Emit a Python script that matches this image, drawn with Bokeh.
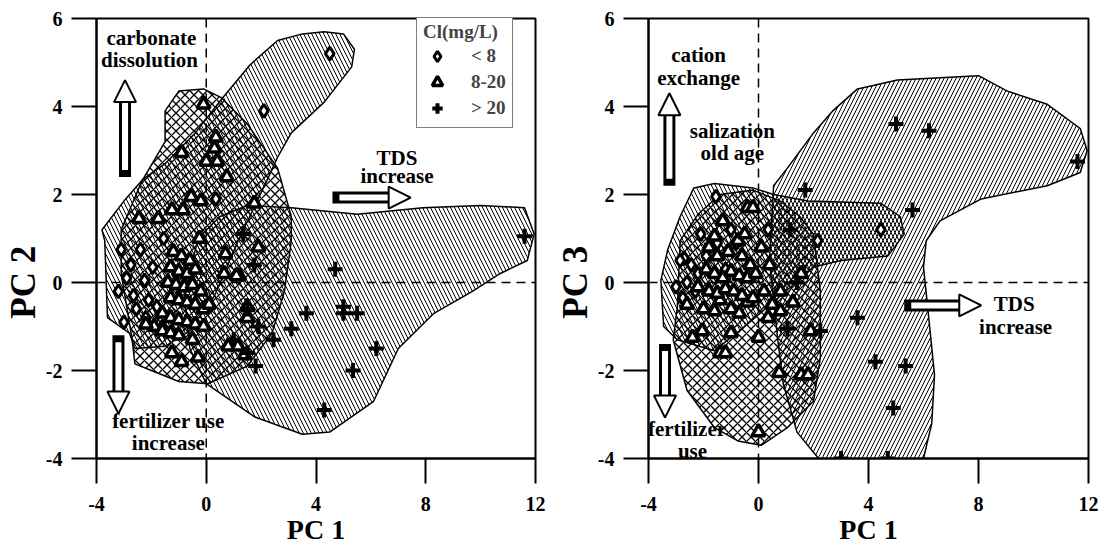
from bokeh.plotting import figure
from bokeh.layouts import row
from bokeh.models import (Range1d, FixedTicker, Span, Label, Arrow, NormalHead,
                          Legend, LegendItem)
from bokeh.embed import file_html
from bokeh.resources import INLINE
import math

SERIF = "Liberation Serif"

# ---------------- PC1 vs PC2 ----------------
L_dia_x = [4.5, 2.1, 0.35, -1.55, -3.1, -2.4, -2.75, -2.25, -2.65, -2.1, -2.55, -2.2, -1.8, -3.0, -1.6, -2.9, -1.95, -3.2]
L_dia_y = [5.2, 3.9, 1.9, 1.0, 0.75, 0.75, 0.4, 0.05, -0.3, -0.4, -0.6, -0.8, -0.55, -0.9, -1.0, 0.1, 0.35, -0.2]

L_tri_x = [-0.1, 0.35, 0.3, -0.9, 0.0, 0.4, 0.75, -0.55, -0.2, -1.25, -0.85, -1.75, -2.45, 1.75, 1.9, 0.7, 1.2,
           -0.25, 0.65, 1.1, 1.5, 0.8, 1.15, 1.4, -1.25, -0.9, -0.3, 1.5,
           -1.2, -0.9, -0.6, -1.3, -1.0, -0.7, -0.4, -1.4, -1.1, -0.8, -0.5, -0.2, -1.3, -1.0, -0.7, -0.4,
           -1.6, -1.3, -1.0, -0.7, -0.4, -0.1, -1.9, -1.6, -1.3, -1.0, -2.2, -0.1, 0.1, -0.5]
L_tri_y = [4.05, 3.3, 3.05, 2.95, 2.75, 2.75, 2.4, 1.95, 1.85, 1.65, 1.65, 1.45, 1.45, 1.8, 0.8, 0.65, 0.15,
           1.0, 0.2, 0.15, -0.8, -1.45, -1.45, -1.65, -1.6, -1.8, -1.7, -0.55,
           0.7, 0.6, 0.5, 0.35, 0.25, 0.2, 0.3, 0.0, -0.05, -0.1, -0.05, -0.2, -0.35, -0.4, -0.45, -0.5,
           -0.7, -0.8, -0.85, -0.9, -0.95, -0.6, -1.0, -1.1, -1.15, -1.2, -0.95, -1.0, -0.5, -1.3]

L_plus_x = [11.6, 4.7, 1.35, 1.75, 5.0, 5.0, 5.5, 3.65, 3.1, 2.45, 6.2, 5.35, 4.3, 1.5, 1.9, 1.5, 1.8, 1.0]
L_plus_y = [1.05, 0.3, 1.1, 0.4, -0.55, -0.7, -0.7, -0.7, -1.05, -1.3, -1.5, -2.0, -2.9, -0.6, -1.0, -1.6, -1.9, -1.3]

# group envelopes
L_env_dia_x = [-3.8, -3.0, -2.3, -1.5, -0.4, 0.6, 1.6, 2.6, 3.5, 4.3, 5.0, 5.4, 5.3, 4.3, 3.1, 2.6, 2.2, 1.2,
               0.3, -0.6, -1.5, -2.6, -2.8, -3.6, -3.7]
L_env_dia_y = [1.2, 1.85, 2.35, 2.7, 3.4, 4.2, 4.95, 5.5, 5.65, 5.7, 5.65, 5.3, 4.9, 4.1, 3.4, 2.85, 2.3, 1.0,
               -0.3, -1.1, -1.45, -1.5, -1.15, -0.8, 0.95]
L_env_tri_x = [-1.5, -1.0, -0.1, 0.55, 1.5, 2.6, 3.1, 3.1, 2.85, 2.4, 1.5, 0.05, -1.0, -2.0, -2.6, -2.7, -3.1,
               -3.1, -2.35, -1.5]
L_env_tri_y = [3.9, 4.35, 4.4, 4.2, 3.6, 2.6, 1.5, 0.95, -0.2, -1.15, -1.9, -2.3, -2.25, -2.0, -1.85, -1.3, 0.2,
               1.2, 2.3, 3.2]
L_env_plus_x = [-0.3, 0.5, 1.5, 3.1, 5.5, 7.9, 10.0, 11.6, 11.95, 11.7, 10.7, 9.7, 8.3, 7.0, 6.1, 4.5, 3.5,
                1.75, 0.0, -0.6, -0.8]
L_env_plus_y = [1.0, 1.5, 1.75, 1.7, 1.55, 1.7, 1.75, 1.7, 1.1, 0.5, 0.2, -0.2, -0.7, -1.5, -2.7, -3.4, -3.45,
                -3.05, -2.3, -1.5, -0.3]

# ---------------- PC1 vs PC3 ----------------
R_dia_x = [-1.55, 4.45, 2.15, 0.35, -2.7, -2.45, -2.1, -2.85, -2.2, -2.6, -3.0, -1.9, -1.5, -2.3, -1.2, -0.8, -2.75, -1.0]
R_dia_y = [1.95, 1.2, 0.95, 1.2, 0.55, 0.4, 1.1, 0.5, 0.2, 0.0, -0.1, 0.6, 0.9, -0.2, 0.3, 0.9, -0.35, 1.2]

R_tri_x = [-0.4, -0.2, -1.3, -0.75, 1.55, 0.8, 1.25, 1.9, 0.0, -1.0, -1.4, -2.4, -2.05, 0.75, 1.55, 1.8, 0.0,
           -1.2, -1.4, -0.4, 0.8, 0.35,
           -1.8, -1.5, -1.1, -0.6, -0.3, -1.9, -1.6, -1.3, -1.0, -0.7, -0.4, -0.1, -2.2, -1.8, -1.5, -1.2,
           -0.9, -0.6, -0.2, -2.0, -1.6, -1.0, -0.7, 0.2, 0.5, -2.6, -1.6, -0.5, 0.1, 0.4]
R_tri_y = [1.7, 1.7, 1.4, 0.95, 0.2, -0.2, -0.45, -1.1, -1.25, -1.15, -1.6, -1.25, -1.1, -2.05, -2.1, -2.1, -3.4,
           -1.6, -0.4, -0.45, -0.65, -0.8,
           0.8, 0.6, 0.7, 0.6, 0.4, 0.3, 0.2, 0.1, 0.25, 0.15, 0.1, 0.2, -0.1, -0.2, -0.25, -0.15,
           -0.2, -0.3, -0.35, -0.6, -0.65, -0.6, -0.7, -0.2, -0.5, -0.5, 1.05, 1.1, 0.8, 0.4]

R_plus_x = [5.0, 6.2, 11.6, 1.7, 5.6, 1.15, 3.6, 4.25, 5.35, 4.9, 3.0, 4.7, 2.25, 1.05, 1.4]
R_plus_y = [3.6, 3.45, 2.75, 2.1, 1.65, 1.2, -0.8, -1.8, -1.9, -2.85, -4.0, -4.0, -1.1, -1.05, 0.0]

R_env_dia_x = [-2.35, -1.6, -0.2, 0.55, 1.8, 4.45, 5.15, 5.3, 4.7, 3.0, 2.0, 0.8, -0.5, -1.6, -2.95, -3.45,
               -3.55, -3.3, -2.85]
R_env_dia_y = [2.15, 2.25, 2.15, 2.0, 1.85, 1.8, 1.5, 1.1, 0.6, 0.5, 0.35, -0.3, -1.0, -1.55, -1.3, -1.0,
               0.05, 0.75, 1.5]
R_env_tri_x = [-1.4, -0.2, 0.8, 1.5, 2.0, 2.25, 2.25, 2.0, 1.05, 0.1, -0.75, -1.6, -2.6, -3.1, -2.95, -2.85, -2.2]
R_env_tri_y = [2.0, 2.1, 1.85, 1.5, 1.1, -0.2, -1.7, -2.7, -3.3, -3.7, -3.6, -3.3, -2.45, -1.3, -0.55, 0.95, 1.55]
R_env_plus_x = [0.55, 1.05, 2.0, 2.7, 3.6, 5.05, 8.0, 9.05, 10.5, 11.7, 11.95, 11.7, 10.5, 8.1, 6.6, 6.1, 6.0,
                6.15, 6.4, 6.3, 6.0, 4.9, 3.45, 2.25, 1.4, 0.9, 0.7, 0.4]
R_env_plus_y = [2.2, 2.6, 3.4, 3.9, 4.4, 4.6, 4.7, 4.35, 4.05, 3.5, 3.0, 2.5, 2.2, 1.9, 1.4, 0.95, 0.35,
                -0.55, -2.1, -3.2, -4.0, -4.4, -4.4, -4.05, -3.4, -2.3, -1.3, 0.5]

X_TICKS = [-4, 0, 4, 8, 12]
Y_TICKS = [-4, -2, 0, 2, 4, 6]
GROUP_LABELS = ["< 8", "8-20", "> 20"]

# trailing no-break spaces push the vertical title down toward the zero line
TITLE_PAD = "\u00a0" * 10


def base_figure(width, border_left, border_right, ylabel):
    p = figure(width=width, height=549, output_backend="svg", toolbar_location=None,
               x_range=Range1d(-4, 12), y_range=Range1d(-4, 6),
               min_border_left=border_left, min_border_right=border_right,
               min_border_top=18, min_border_bottom=91)
    p.grid.visible = False
    p.outline_line_color = "black"
    p.outline_line_width = 2
    p.background_fill_color = "white"
    p.border_fill_color = "white"
    p.xaxis.ticker = FixedTicker(ticks=X_TICKS)
    p.yaxis.ticker = FixedTicker(ticks=Y_TICKS)
    p.xaxis.major_label_overrides = {t: str(t) for t in X_TICKS}
    p.yaxis.major_label_overrides = {t: str(t) for t in Y_TICKS}
    for ax in (p.xaxis[0], p.yaxis[0]):
        ax.axis_line_width = 2
        ax.axis_line_color = "black"
        ax.major_tick_line_width = 2
        ax.major_tick_line_color = "black"
        ax.major_tick_out = 25
        ax.major_tick_in = 0
        ax.minor_tick_out = 0
        ax.minor_tick_in = 0
        ax.major_label_text_font = SERIF
        ax.major_label_text_font_style = "bold"
        ax.major_label_text_font_size = "20px"
        ax.major_label_text_color = "black"
        ax.axis_label_text_font = SERIF
        ax.axis_label_text_font_style = "bold"
        ax.axis_label_text_color = "black"
    p.xaxis.major_label_standoff = 13
    p.yaxis.major_label_standoff = 9
    p.xaxis.axis_label = "PC 1"
    p.xaxis.axis_label_text_font_size = "28px"
    p.xaxis.axis_label_standoff = 0
    p.yaxis.axis_label = ylabel + TITLE_PAD
    p.yaxis.axis_label_text_font_size = "35px"
    p.yaxis.axis_label_standoff = 0
    p.add_layout(Span(location=0, dimension="height", line_color="black", line_width=1.5,
                      line_dash="9 6", level="underlay"))
    p.add_layout(Span(location=0, dimension="width", line_color="black", line_width=1.5,
                      line_dash="9 6", level="underlay"))
    return p


def envelope(p, xs, ys, pattern, scale, weight=1.0):
    p.patch(xs, ys, fill_color=None, line_color="black", line_width=1.5,
            hatch_pattern=pattern, hatch_color="black", hatch_weight=weight, hatch_scale=scale)


def groups(p, dx, dy, tx, ty, cx, cy):
    r1 = p.scatter(dx, dy, marker="diamond", size=13, line_color="black",
                   line_width=3, fill_color="white")
    r2 = p.scatter(tx, ty, marker="triangle", size=13, line_color="black",
                   line_width=3.5, fill_color="white")
    r3 = p.scatter(cx, cy, marker="cross", size=15, line_color="black", line_width=4)
    return r1, r2, r3


def text(p, x, y, s, size="21px"):
    p.add_layout(Label(x=x, y=y, text=s, text_align="center", text_baseline="middle",
                       text_font=SERIF, text_font_style="bold", text_font_size=size,
                       text_color="black"))


def block_arrow(p, x0, y0, x1, y1):
    """Hollow block arrow from (x0, y0) to the tip (x1, y1) with a solid tail cap."""
    sx = 27.5  # px per x unit
    sy = 44.0  # px per y unit
    dxp = (x1 - x0) * sx
    dyp = (y1 - y0) * sy
    length = math.hypot(dxp, dyp)
    ux, uy = dxp / length, dyp / length
    head = 22.0
    bx = x1 - ux * head / sx
    by = y1 - uy * head / sy
    cap = 7.0
    cx_ = x0 + ux * cap / sx
    cy_ = y0 + uy * cap / sy
    p.add_layout(Arrow(end=None, x_start=x0, y_start=y0, x_end=bx, y_end=by,
                       line_color="black", line_width=12))
    p.add_layout(Arrow(end=None, x_start=cx_, y_start=cy_, x_end=bx, y_end=by,
                       line_color="white", line_width=6))
    p.add_layout(Arrow(end=NormalHead(size=head, fill_color="white", line_color="black", line_width=2),
                       x_start=bx - ux * 0.05, y_start=by - uy * 0.05, x_end=x1, y_end=y1,
                       line_alpha=0))


# ---------- left panel ----------
p1 = base_figure(548, 95, 13, "PC 2")
envelope(p1, L_env_dia_x, L_env_dia_y, "\\", 8)
envelope(p1, L_env_plus_x, L_env_plus_y, "\\", 8)
envelope(p1, L_env_tri_x, L_env_tri_y, "x", 9, 1.3)
rd, rt, rp = groups(p1, L_dia_x, L_dia_y, L_tri_x, L_tri_y, L_plus_x, L_plus_y)

block_arrow(p1, -2.96, 2.4, -2.96, 4.6)
block_arrow(p1, 4.6, 1.93, 7.45, 1.93)
block_arrow(p1, -3.2, -1.2, -3.2, -2.98)
text(p1, -2.0, 5.55, "carbonate")
text(p1, -2.07, 5.05, "dissolution")
text(p1, 6.95, 2.84, "TDS")
text(p1, 6.95, 2.43, "increase")
text(p1, -1.38, -3.14, "fertilizer use")
text(p1, -1.38, -3.64, "increase")

legend = Legend(items=[LegendItem(label=GROUP_LABELS[0], renderers=[rd]),
                       LegendItem(label=GROUP_LABELS[1], renderers=[rt]),
                       LegendItem(label=GROUP_LABELS[2], renderers=[rp])],
                title="Cl(mg/L)", location=(320, 330), orientation="vertical")
legend.title_text_font = SERIF
legend.title_text_font_style = "bold"
legend.title_text_font_size = "19px"
legend.title_standoff = 0
legend.label_text_font = SERIF
legend.label_text_font_style = "bold"
legend.label_text_font_size = "19px"
legend.label_standoff = 20
legend.glyph_width = 28
legend.glyph_height = 26
legend.label_height = 26
legend.spacing = -2
legend.padding = 6
legend.margin = 0
legend.border_line_color = "black"
legend.border_line_width = 1.5
legend.background_fill_color = "white"
legend.background_fill_alpha = 1
p1.add_layout(legend)

# ---------- right panel ----------
p2 = base_figure(553, 100, 13, "PC 3")
envelope(p2, R_env_plus_x, R_env_plus_y, "/", 8)
envelope(p2, R_env_dia_x, R_env_dia_y, "\\", 8)
envelope(p2, R_env_tri_x, R_env_tri_y, "x", 9, 1.3)
groups(p2, R_dia_x, R_dia_y, R_tri_x, R_tri_y, R_plus_x, R_plus_y)

block_arrow(p2, -3.24, 2.2, -3.24, 4.3)
block_arrow(p2, 5.3, -0.52, 8.1, -0.52)
block_arrow(p2, -3.4, -1.4, -3.4, -3.07)
text(p2, -2.18, 5.16, "cation")
text(p2, -2.18, 4.64, "exchange")
text(p2, -0.95, 3.45, "salization")
text(p2, -0.95, 2.95, "old age")
text(p2, 9.3, -0.48, "TDS")
text(p2, 9.35, -1.02, "increase")
text(p2, -2.6, -3.32, "fertilizer")
text(p2, -2.4, -3.82, "use")

layout = row(p1, p2)
open("out.html", "w").write(file_html(layout, INLINE))
